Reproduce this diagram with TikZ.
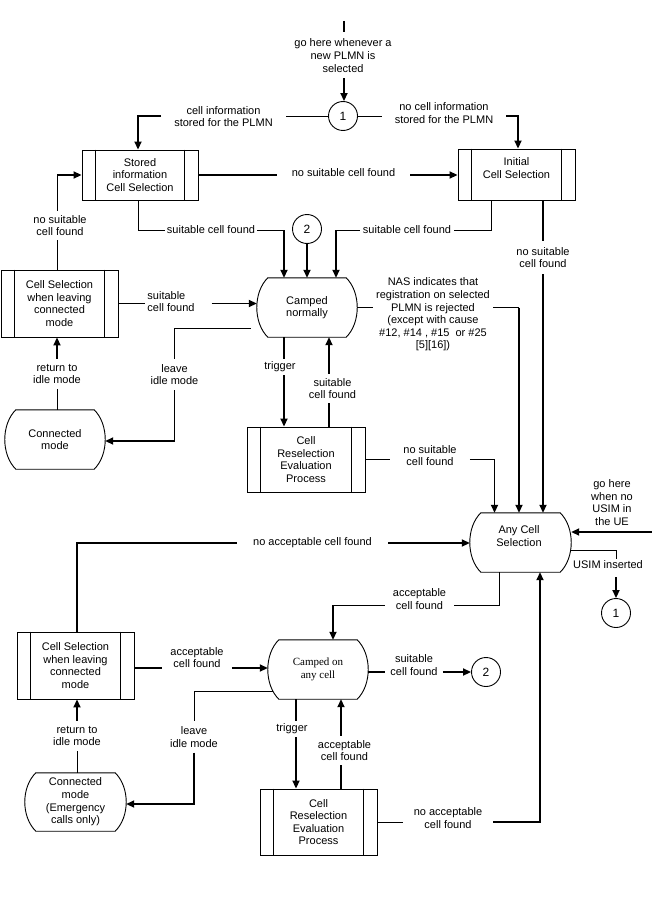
\documentclass[tikz,border=0pt]{standalone}
\usepackage{fontspec}
\setmainfont{Liberation Sans}
\newfontfamily\campserif{Liberation Serif}
\usetikzlibrary{arrows.meta,calc}
\newcommand{\drawbarrel}[1]{%
 \draw[line width=0.9pt] ($(#1.north west)+(11,0)$) -- ($(#1.north east)+(-11,0)$)
   .. controls ($(#1.north east)+(3.7,14.5)$) and ($(#1.south east)+(3.7,-14.5)$) .. ($(#1.south east)+(-11,0)$)
   -- ($(#1.south west)+(11,0)$)
   .. controls ($(#1.south west)+(-3.7,-14.5)$) and ($(#1.north west)+(-3.7,14.5)$) .. cycle;}
\newcommand{\procbars}[1]{%
 \draw[line width=0.9pt] ($(#1.north west)+(14,0)$) -- ($(#1.south west)+(14,0)$);
 \draw[line width=0.9pt] ($(#1.north east)+(-14,0)$) -- ($(#1.south east)+(-14,0)$);}
\begin{document}
\begin{tikzpicture}[x=1pt,y=-1pt,
  thn/.style={line width=0.9pt},
  thk/.style={line width=1.8pt},
  arr/.style={-{Triangle[length=8pt,width=7pt]}},
  lbl/.style={font=\fontsize{11}{12.6}\selectfont, align=center, inner xsep=8pt, inner ysep=5pt},
  procbox/.style={draw, line width=0.9pt, font=\fontsize{11}{12.6}\selectfont, align=center, inner sep=0pt},
  barrelnode/.style={font=\fontsize{11}{12.6}\selectfont, align=center, inner sep=0pt},
  circ/.style={draw, circle, line width=0.9pt, minimum size=29pt, inner sep=0pt, font=\fontsize{12}{14}\selectfont}
]
\fill[white] (0,0) rectangle (652,904);
\useasboundingbox (0,0) rectangle (652,904);

% ---------- main nodes ----------
\node[procbox, minimum width=116pt, minimum height=50pt] (stored) at (140,175) {Stored\\information\\Cell Selection};
\node[procbox, minimum width=117pt, minimum height=51pt] (initial) at (516.5,174.5) {};
\node[lbl, inner sep=0pt] (initialtxt) at (516.5,168) {Initial\\Cell Selection};
\node[procbox, minimum width=117pt, minimum height=67pt] (csl1) at (59.5,303.5) {Cell Selection\\when leaving\\connected\\mode};
\node[barrelnode, minimum width=100pt, minimum height=59pt] (camped) at (307,307.5) {Camped\\normally};
\node[barrelnode, minimum width=100pt, minimum height=59pt] (conn1) at (55,439.5) {Connected\\mode};
\node[procbox, minimum width=118pt, minimum height=65pt] (cre1) at (306,459.5) {Cell\\Reselection\\Evaluation\\Process};
\node[barrelnode, minimum width=101pt, minimum height=59pt] (anycell) at (520.5,542.5) {};
\node[lbl, inner sep=0pt] (anytxt) at (519,536) {Any Cell\\Selection};
\node[procbox, minimum width=117pt, minimum height=67pt] (csl2) at (75.5,665.5) {Cell Selection\\when leaving\\connected\\mode};
\node[barrelnode, minimum width=100pt, minimum height=59pt, font=\campserif\fontsize{11}{12.6}\selectfont] (campany) at (318,669.5) {Camped on\\any cell};
\node[barrelnode, minimum width=101pt, minimum height=58pt] (conn2) at (75.5,802) {Connected\\mode\\(Emergency\\calls only)};
\node[procbox, minimum width=117pt, minimum height=66pt] (cre2) at (318.5,822) {Cell\\Reselection\\Evaluation\\Process};

\foreach \n in {stored,initial,csl1,cre1,csl2,cre2} {\procbars{\n}}
\foreach \n in {camped,conn1,anycell,campany,conn2} {\drawbarrel{\n}}

\node[circ] (c1top) at (343,116) {1};
\node[circ] (c2top) at (307,229) {2};
\node[circ] (c1bot) at (616,613) {1};
\node[circ] (c2bot) at (486,672) {2};

% ---------- labels ----------
\node[lbl, inner ysep=6pt] (golbl) at (343,55.5) {go here whenever a\\new PLMN is\\selected};
\node[lbl, inner xsep=13pt] (infolbl) at (223.5,116.5) {cell information\\stored for the PLMN};
\node[lbl, inner xsep=13pt] (ncilbl) at (444,113) {no cell information\\stored for the PLMN};
\node[lbl, inner xsep=15pt] (nsc1) at (343.5,173) {no suitable cell found};
\node[lbl, inner ysep=4pt] (nsl) at (60,225.5) {no suitable\\cell found};
\node[lbl, inner xsep=2pt] (scf1) at (211,230) {suitable cell found};
\node[lbl, inner xsep=3pt] (scf2) at (407,230) {suitable cell found};
\node[lbl, inner ysep=6pt] (nsc2) at (543,257.5) {no suitable\\cell found};
\node[lbl, inner xsep=2pt, align=left] (scf3) at (171,301.5) {suitable\\cell found};
\node[lbl, inner xsep=3pt] (nas) at (433,314.5) {NAS indicates that\\registration on selected\\PLMN is rejected\\(except with cause\\\#12, \#14 , \#15~ or \#25\\{[5][16])}};
\node[lbl] (lim1) at (174.5,374.5) {leave\\idle mode};
\node[lbl] (ret1) at (57,374) {return to\\idle mode};
\node[lbl, inner ysep=3pt] (trg1) at (280,367) {trigger};
\node[lbl, inner ysep=4pt] (scf4) at (332.5,388.5) {suitable\\cell found};
\node[lbl, inner xsep=13pt] (nsc3) at (430,455.5) {no suitable\\cell found};
\node[lbl] (gohere2) at (612,502.5) {go here\\when no\\USIM in\\the UE};
\node[lbl, inner ysep=2pt] (usimlbl) at (608,565) {USIM inserted};
\node[lbl, inner xsep=16pt] (nacf) at (312.5,543) {no acceptable cell found};
\node[lbl] (acf1) at (419.5,599) {acceptable\\cell found};
\node[lbl] (acf2) at (197,657.5) {acceptable\\cell found};
\node[lbl, inner xsep=5pt] (scf5) at (414,665) {suitable\\cell found};
\node[lbl] (lim2) at (194,737) {leave\\idle mode};
\node[lbl] (ret2) at (77,736) {return to\\idle mode};
\node[lbl, inner ysep=3pt] (trg2) at (292,729) {trigger};
\node[lbl, inner ysep=4pt] (acf3) at (344.5,750.5) {acceptable\\cell found};
\node[lbl, inner xsep=11pt] (nacf2) at (448,818) {no acceptable\\cell found};

% ---------- helper coordinates ----------
\path (camped.north) ++(-23,0) coordinate (cnL);
\path (camped.north) ++(29,0) coordinate (cnR);
\path (camped.south) ++(22,0) coordinate (csR);
\path (anycell.north) ++(-26,0) coordinate (anL);
\path (anycell.north) ++(-1.5,0) coordinate (anM);
\path (anycell.north) ++(22.5,0) coordinate (anR);
\path (anycell.south) ++(-21.5,0) coordinate (asL);
\path (anycell.south) ++(19.5,0) coordinate (asR);
\path (campany.north) ++(15,0) coordinate (caR);
\path (campany.south) ++(-22,0) coordinate (tsL);
\path (campany.south) ++(23,0) coordinate (tsR);
\path ($(acf1.west)+(0,6)$) coordinate (acfw);
\path ($(acf1.east)+(0,6)$) coordinate (acfe);
\path ($(csl2.east)+(0,2.5)$) coordinate (c2e);
\coordinate (entry) at (344,21);
\coordinate (usimin) at (652,532);

% ---------- connectors ----------
\draw[thk] (entry) -- ++(0,11);
\draw[thk,arr] (golbl.south -| entry) -- (entry |- c1top.north);

\draw[thn] (c1top.west) -- (infolbl.east |- c1top.west);
\draw[thk,arr] (infolbl.west |- c1top.west) -| ($(stored.north)+(-2,0)$);
\draw[thn] (c1top.east) -- (ncilbl.west |- c1top.east);
\draw[thk,arr] (ncilbl.east |- c1top.east) -| ($(initial.north)+(1.5,0)$);

\draw[thk] (stored.east) -- (nsc1.west |- stored.east);
\draw[thk,arr] (nsc1.east |- stored.east) -- (initial.west |- stored.east);

\draw[thn] ($(stored.south)+(-2,0)$) |- (scf1.west);
\draw[thn] (scf1.east) -- (cnL |- scf1.east);
\draw[thk,arr] (cnL |- scf1.east) -- (cnL);
\draw[thk,arr] (c2top.south) -- (camped.north);
\draw[thn] ($(initial.south)+(-25.5,0)$) |- (scf2.east);
\draw[thn] (scf2.west) -- (cnR |- scf2.west);
\draw[thk,arr] (cnR |- scf2.west) -- (cnR);

\draw[thk] (anR |- initial.south) -- (anR |- nsc2.north);
\draw[thk,arr] (anR |- nsc2.south) -- (anR);

\draw[thn] (ret1.north |- csl1.north) -- (ret1.north |- nsl.south);
\draw[thn] (ret1.north |- nsl.north) -- (ret1.north |- stored.west);
\draw[thk,arr] (ret1.north |- stored.west) -- (stored.west);

\draw[thk] (csl1.east) -- (scf3.west |- csl1.east);
\draw[thk,arr] ($(scf3.east |- csl1.east)+(15,0)$) -- (camped.west |- csl1.east);

\draw[thn] ($(camped.south west)+(-6,-9)$) -| (lim1.north);
\draw[thk,arr] (lim1.south) |- ($(conn1.east)+(0,1.5)$);

\draw[thn] (ret1.south |- conn1.north) -- (ret1.south);
\draw[thk,arr] (ret1.north) -- (ret1.north |- csl1.south);

\draw[thk] (cnL |- camped.south) -- (cnL |- trg1.north);
\draw[thk,arr] (cnL |- trg1.south) -- (cnL |- cre1.north);
\draw[thk] (csR |- cre1.north) -- (csR |- scf4.south);
\draw[thk,arr] (csR |- scf4.north) -- (csR);

\draw[thn] (cre1.east) -- (nsc3.west |- cre1.east);
\draw[thn] (nsc3.east |- cre1.east) -- (anL |- cre1.east);
\draw[thk,arr] (anL |- cre1.east) -- (anL);

\draw[thn] (camped.east) -- (nas.west |- camped.east);
\draw[thn] (nas.east |- camped.east) -- (anM |- camped.east);
\draw[thk,arr] (anM |- camped.east) -- (anM);

\draw[thk,arr] (usimin) -- (usimin -| anycell.east);
\draw[thn] ($(anycell.east)+(0,7.5)$) -| (c1bot |- usimlbl.north);
\draw[thk,arr] ($(c1bot |- usimlbl.south)+(0,6)$) -- (c1bot.north);

\draw[thk] ($(csl2.north)+(1.5,0)$) |- (nacf.west);
\draw[thk,arr] (nacf.east) -- (anycell.west |- nacf.east);

\draw[thn] (asL) |- (acfe);
\draw[thn] (acfw) -- (caR |- acfw);
\draw[thk,arr] (caR |- acfw) -- (caR);

\draw[thk] (c2e) -- (acf2.west |- c2e);
\draw[thk,arr] (acf2.east |- c2e) -- (campany.west |- c2e);

\draw[thk] (campany.east |- c2bot) -- (scf5.west |- c2bot);
\draw[thk,arr] (scf5.east |- c2bot) -- (c2bot.west);

\draw[thn] ($(campany.south west)+(5,-8)$) -| (lim2.north);
\draw[thk,arr] (lim2.south) |- ($(conn2.east)+(0,2)$);

\draw[thn] (ret2.south |- conn2.north) -- (ret2.south);
\draw[thk,arr] (ret2.north) -- (ret2.north |- csl2.south);

\draw[thk] (tsL) -- (tsL |- trg2.north);
\draw[thk,arr] (tsL |- trg2.south) -- (tsL |- cre2.north);
\draw[thk] (tsR |- cre2.north) -- (tsR |- acf3.south);
\draw[thk,arr] (tsR |- acf3.north) -- (tsR);

\draw[thn] (cre2.east) -- (nacf2.west |- cre2.east);
\draw[thk,arr] (nacf2.east |- cre2.east) -| (asR);
\end{tikzpicture}
\end{document}
